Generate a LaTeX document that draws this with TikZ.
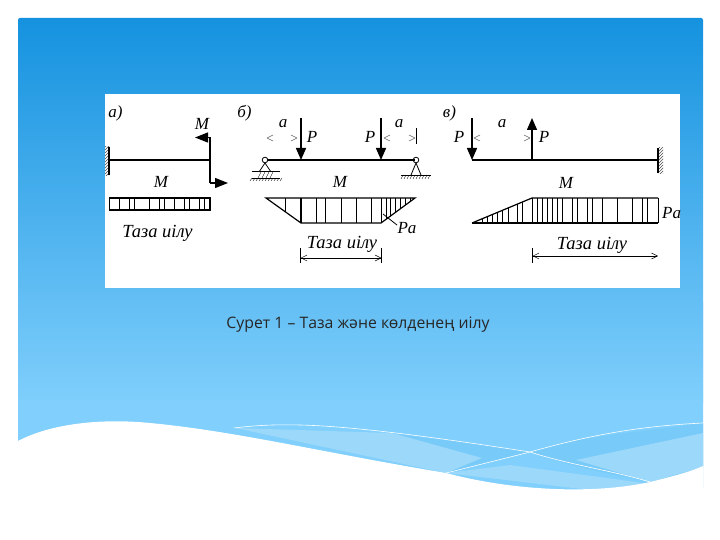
\documentclass[tikz,border=0pt]{standalone}
\usepackage{fontspec}
\setmainfont{Liberation Serif}
\newfontfamily\capfont{Open Sans}
\usetikzlibrary{arrows.meta,patterns}
\definecolor{skytop}{HTML}{1592DF}
\definecolor{skybot}{HTML}{80CFFC}
\definecolor{paleband}{HTML}{9BD8FA}
\definecolor{midband}{HTML}{78CAF8}
\tikzset{
 x=1pt,y=-1pt,
 beam/.style={line width=2.6pt},
 thinline/.style={line width=0.8pt},
 medline/.style={line width=1.2pt},
 force/.style={line width=1.4pt,-{Triangle[length=12pt,width=10pt]}},
 dimline/.style={line width=0.5pt,{Straight Barb[length=6pt,width=6pt]}-{Straight Barb[length=6pt,width=6pt]}},
 smalldim/.style={line width=0.5pt,black!60},
 lab/.style={font=\itshape\fontsize{17}{17}\selectfont,inner sep=0pt},
 biglab/.style={font=\itshape\fontsize{18.5}{18}\selectfont,inner sep=0pt},
 hatchl/.style={line width=0.4pt},
}
\begin{document}
\begin{tikzpicture}
\useasboundingbox (0,0) rectangle (720,540);
\fill[white] (0,0) rectangle (720,540);
% slide background
\fill[skybot,rounded corners=2pt] (18,300) rectangle (703,490);
\shade[top color=skytop,bottom color=skybot,rounded corners=2pt] (18,18) rectangle (703,405);
\fill[skybot] (18,400) rectangle (703,410);
% lower bands
\fill[midband] (392,433) .. controls (440,440) and (490,445) .. (530,452) .. controls (580,470) and (620,475) .. (650,482) -- (703,467) -- (703,423) .. controls (640,432) and (580,436) .. (530,452) -- (446,473) -- cycle;
\fill[paleband] (235,428) -- (392,433) -- (482,458) -- (446,473) -- cycle;
\fill[paleband] (446,473) -- (510,465) -- (622,480) -- (650,484) -- (590,490) -- cycle;
\fill[paleband] (703,433) -- (703,467) -- (650,482) -- (576,460) -- cycle;
% white wave
\fill[white] (18,441) .. controls (50,424) and (100,418) .. (150,423) .. controls (235,431) and (320,452) .. (446,473) .. controls (510,490) and (590,495) .. (650,482) .. controls (670,477) and (690,472) .. (703,466) -- (703,540) -- (18,540) -- cycle;
% white lines
\draw[white,line width=0.6pt] (234,428) .. controls (290,421) and (350,424) .. (530,452) .. controls (570,465) and (610,470) .. (650,482);
\draw[white,line width=0.6pt] (446,473) -- (530,452) .. controls (590,435) and (640,426) .. (703,423);
% picture panel
\fill[white] (105,94) rectangle (680,288);
% --- a)
\node[lab] (la) at (115.5,113) {а)};
\path[pattern=north east lines,pattern color=black!70] (105,147) rectangle (109,176);
\draw[medline] (109,147) -- (109,175);
\coordinate (a1) at (109,160); \coordinate (a2) at (210,160);
\draw[beam] (a1) -- (a2);
\coordinate (mt) at (210,137.5); \coordinate (mb) at (210,183);
\draw[medline] (mt) -- (mb);
\draw[line width=1.4pt,-{Triangle[length=13pt,width=10pt]}] (mt) -- (195,137.5);
\draw[line width=1.4pt,-{Triangle[length=13pt,width=10pt]}] (mb) -- (228,183);
\node[lab] (ma) at (202,124) {M};
\node[lab] (mam) at (161,182) {M};
\draw[line width=1.2pt] (109.5,198) rectangle (210,210);
\foreach \x in {119,129,134,149,159,164,174,184,189,199,204} \draw[thinline] (\x,198) -- (\x,210);
\node[biglab] (ta) at (157.5,233) {Таза иілу};
% --- б)
\node[lab] (lb) at (244.5,113) {б)};
\coordinate (b1) at (267,160); \coordinate (b2) at (415,160);
\draw[beam] (b1) -- (b2);
\draw[force] (301,118) -- (301,160);
\draw[force] (381,118) -- (381,160);
\node[lab] (pb1) at (312,137) {P};
\node[lab] (pb2) at (370,137) {P};
\node[lab] (ab1) at (283,124) {a};
\node[lab] (ab2) at (399,124) {a};
\draw[smalldim] (267,138) -- (273,135) (267,138) -- (273,141);
\draw[smalldim] (297,138) -- (291,135) (297,138) -- (291,141);
\draw[smalldim] (384,138) -- (390,135) (384,138) -- (390,141);
\draw[smalldim] (415,138) -- (409,135) (415,138) -- (409,141);
\draw[thinline] (416,128) -- (416,144);
% supports
\draw[thinline] (265,160) circle (2.8);
\draw[thinline] (265,163) -- (259,172) (265,163) -- (271,172);
\draw[thinline] (252,171) -- (280,171) (252,178) -- (280,178);
\foreach \x in {258,262,266,270} \draw[hatchl] (\x+3,172) -- (\x,178);
\foreach \x in {250,253,...,280} \draw[hatchl] (\x+2,178) -- (\x,181);
\draw[thinline] (416,160) circle (2.8);
\draw[thinline] (416,163) -- (411,175) (416,163) -- (421,175);
\draw[thinline] (401,175) -- (431,175);
\foreach \x in {401,404,...,430} \draw[hatchl] (\x+2,175) -- (\x,179);
\node[lab] (mbm) at (340,182) {M};
\draw[line width=1.2pt] (266,198) -- (415,198) -- (381,223) -- (301,223) -- cycle;
\draw[medline] (301,198) -- (301,223);
\draw[thinline] (285.5,198) -- (285.5,212);
\foreach \x in {316,325,341,356,371,381} \draw[thinline] (\x,198) -- (\x,223);
\foreach \x in {386,390,395,400,405,410} {\draw[thinline] (\x,198) -- (\x,{198+(415-\x)*25/34});}
\draw[thinline] (383,214) -- (397,225);
\node[lab] (pab) at (407,228) {Pa};
\node[biglab] (tb) at (342,244) {Таза иілу};
\draw[thinline] (300.5,248) -- (300.5,263);
\draw[thinline] (381.5,248) -- (381.5,263);
\draw[dimline] (300.5,258) -- (381.5,258);
% --- в)
\node[lab] (lc) at (449.5,113) {в)};
\coordinate (c1) at (472,160); \coordinate (c2) at (658,160);
\draw[beam] (c1) -- (c2);
\path[pattern=north east lines,pattern color=black!70] (658,148) rectangle (663,174);
\draw[medline] (658,148) -- (658,173);
\draw[force] (472,118) -- (472,160);
\draw[force] (532,160) -- (532,118);
\node[lab] (pc1) at (459,137) {P};
\node[lab] (pc2) at (544,137) {P};
\node[lab] (ac) at (502,124) {a};
\draw[smalldim] (474,138) -- (480,135) (474,138) -- (480,141);
\draw[smalldim] (530,138) -- (524,135) (530,138) -- (524,141);
\node[lab] (mc) at (566,183) {M};
\draw[line width=1.2pt] (472,223) -- (532,198) -- (658,198);
\draw[line width=1.4pt] (472,223) -- (658,223);
\draw[thinline] (658,198) -- (658,223);
\foreach \x in {482,487,492,497,502,508,517,522,532,537,542,547,552,557,562,572,577,587,592,602,617,632,642,647} {\draw[thinline] (\x,{\x<532?223-(\x-472)*25/60:198}) -- (\x,223);}
\begin{scope}
\clip (105,94) rectangle (680,288);
\node[lab,anchor=west] (pac) at (662,213) {Pa};
\end{scope}
\node[biglab] (tc) at (592,245) {Таза иілу};
\draw[thinline] (532.5,248) -- (532.5,263);
\draw[dimline] (532.5,256) -- (658,256);
% caption
\node[font=\capfont\fontsize{15.8}{16}\selectfont,text=black!85,inner sep=0pt] (cap) at (358,325) {Сурет 1 – Таза және көлденең иілу};
\end{tikzpicture}
\end{document}
